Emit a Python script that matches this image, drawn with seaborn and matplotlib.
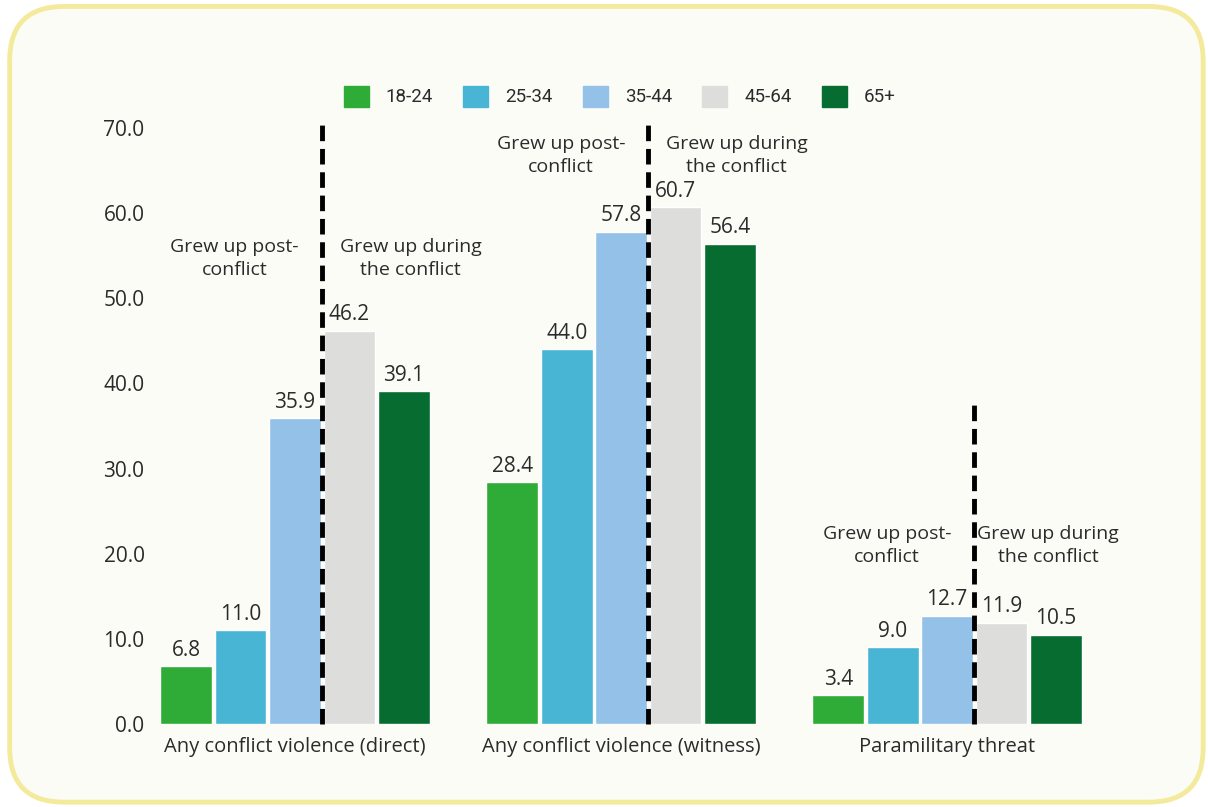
import matplotlib
matplotlib.use("Agg")
import matplotlib.pyplot as plt
import seaborn as sns
import pandas as pd
from matplotlib.patches import FancyBboxPatch, Patch

# ---- data ----
categories = ["Any conflict violence (direct)", "Any conflict violence (witness)", "Paramilitary threat"]
age_groups = ["18-24", "25-34", "35-44", "45-64", "65+"]
v_18_24 = [6.8, 28.4, 3.4]
v_25_34 = [11.0, 44.0, 9.0]
v_35_44 = [35.9, 57.8, 12.7]
v_45_64 = [46.2, 60.7, 11.9]
v_65 = [39.1, 56.4, 10.5]
ytick_vals = [0, 10, 20, 30, 40, 50, 60, 70]
divider_tops = [71, 71, 37.8]
note_left = "Grew up post-\nconflict"
note_right = "Grew up during\nthe conflict"
note_y = [54.7, 66.8, 21.0]

colors = ["#2fab37", "#48b5d5", "#93c1e7", "#dddddb", "#066c2f"]
bg = "#fcfcf7"
txt = "#2b2b2b"

series = [v_18_24, v_25_34, v_35_44, v_45_64, v_65]
rows = []
for ag, vals in zip(age_groups, series):
    for c, v in zip(categories, vals):
        rows.append({"category": c, "age": ag, "value": v})
df = pd.DataFrame(rows)

sns.set_theme(style="white")
plt.rcParams["font.family"] = ["Open Sans", "DejaVu Sans"]

fig = plt.figure(figsize=(12.08, 8.07), dpi=100, facecolor="white")
frame = FancyBboxPatch((0.008, 0.006), 0.988, 0.986,
                       boxstyle="round,pad=0,rounding_size=0.045",
                       transform=fig.transFigure, facecolor=bg,
                       edgecolor="#f4ea9c", linewidth=3.5, zorder=-10,
                       mutation_aspect=1208 / 807)
fig.patches.append(frame)

ax = fig.add_axes([0.1093, 0.1028, 0.8097, 0.7492])
ax.set_facecolor("none")

sns.barplot(data=df, x="category", y="value", hue="age", order=categories,
            hue_order=age_groups, palette=colors, width=0.835, gap=0.05,
            legend=False, ax=ax, saturation=1)

ax.set_xlim(-0.5, 2.5)
ax.set_ylim(0, 71)
ax.set_yticks(ytick_vals)
ax.set_yticklabels([f"{v:.1f}" for v in ytick_vals], fontsize=15, color=txt)
ax.tick_params(axis="y", length=0, pad=-9)
ax.tick_params(axis="x", length=0, pad=9, labelsize=14.5, labelcolor=txt)
ax.set_xlabel("")
ax.set_ylabel("")
for s in ax.spines.values():
    s.set_visible(False)

for cont in ax.containers:
    ax.bar_label(cont, fmt="%.1f", padding=4, fontsize=15, color=txt)

# divider lines between 35-44 and 45-64 bars
c3 = ax.containers[2]
c4 = ax.containers[3]
for i in range(len(categories)):
    b3 = c3.patches[i]
    b4 = c4.patches[i]
    xd = (b3.get_x() + b3.get_width() + b4.get_x()) / 2
    ax.plot([xd, xd], [0, divider_tops[i]], color="black", lw=3.5,
            linestyle=(0, (3.2, 1.6)), zorder=5, clip_on=False)
    ax.text(i - 0.185, note_y[i], note_left, ha="center", va="center",
            fontsize=14, color=txt, linespacing=1.35)
    ax.text(i + (0.355 if i < 2 else 0.31), note_y[i], note_right, ha="center",
            va="center", fontsize=14, color=txt, linespacing=1.35)

handles = [Patch(facecolor=c, edgecolor=c) for c in colors]
leg = fig.legend(handles, age_groups, loc="center", bbox_to_anchor=(0.513, 0.881),
                 ncol=5, frameon=False, handlelength=1.35,
                 handleheight=1.35, columnspacing=1.6, handletextpad=0.9,
                 prop={"family": "Roboto", "size": 13.5})
for t in leg.get_texts():
    t.set_color(txt)

fig.savefig("out.png", dpi=100, facecolor="white")
